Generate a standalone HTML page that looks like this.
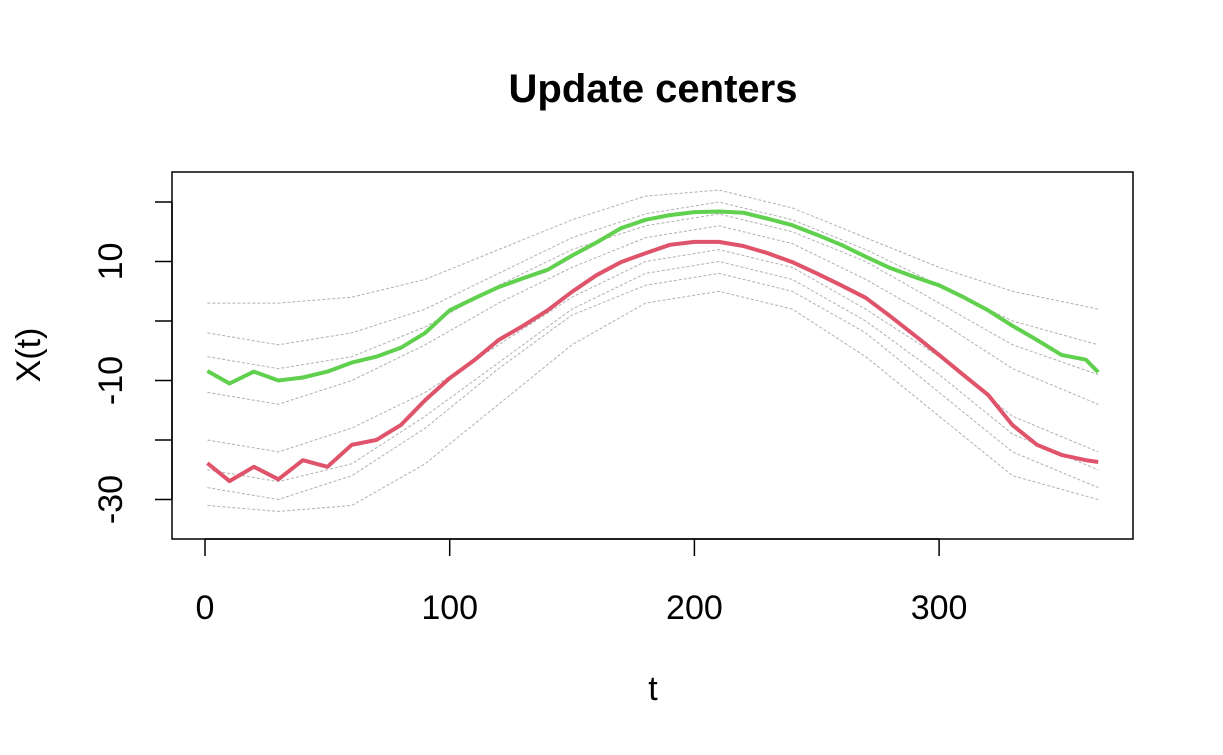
<!DOCTYPE html>
<html><head><meta charset="utf-8"><style>
body{margin:0;background:#fff;}
svg{display:block;font-family:"Liberation Sans",Arial,sans-serif;}
</style></head><body>
<svg id="chart" width="1223" height="755" viewBox="0 0 1223 755" xmlns="http://www.w3.org/2000/svg">
<rect width="1223" height="755" fill="#fff"/>
<text x="653" y="102" text-anchor="middle" font-size="40" font-weight="bold">Update centers</text>
<g id="gray"></g>
<g id="main"></g>
<rect x="172" y="172" width="961" height="367" fill="none" stroke="#000" stroke-width="1.5"/>
<g id="xaxis"></g>
<g id="yaxis"></g>
<text x="653" y="700" text-anchor="middle" font-size="34">t</text>
<text transform="translate(40,355) rotate(-90)" text-anchor="middle" font-size="34">X(t)</text>
</svg>
<script>
const xTicks=[0,100,200,300];
const yTicks=[-30,-20,-10,0,10,20];
const yTickLabels=["-30","","-10","","10",""];
const grayT=[1,30,60,90,120,150,180,210,240,270,300,330,365];
const gray1=[3,3,4,7,12,17,21,22,19,14,9,5,2];
const gray2=[-2,-4,-2,2,8,14,18,20,17,12,6,0,-4];
const gray3=[-12,-14,-10,-4,3,9,14,16,13,7,0,-8,-14];
const gray4=[-20,-22,-18,-12,-4,4,10,12,9,2,-6,-16,-22];
const gray5=[-28,-30,-26,-18,-8,1,6,8,5,-2,-12,-22,-28];
const gray6=[-31,-32,-31,-24,-14,-4,3,5,2,-6,-16,-26,-30];
const gray7=[-6,-8,-6,-1,6,12,16,18,15,10,3,-4,-9];
const gray8=[-25,-27,-24,-16,-7,2,8,10,7,0,-9,-19,-25];
const mainT=[1,10,20,30,40,50,60,70,80,90,100,110,120,130,140,150,160,170,180,190,200,210,220,230,240,250,260,270,280,290,300,310,320,330,340,350,360,365];
const greenVals=[-8.4,-10.5,-8.5,-10,-9.5,-8.5,-7,-6,-4.5,-2,1.8,3.8,5.7,7.2,8.6,11,13.2,15.6,17,17.8,18.3,18.4,18.2,17.2,16.1,14.5,12.8,10.8,8.9,7.4,6,4,1.8,-0.8,-3.2,-5.7,-6.5,-8.6];
const redVals=[-23.9,-26.9,-24.5,-26.6,-23.4,-24.5,-20.8,-20,-17.5,-13.3,-9.6,-6.6,-3.2,-0.8,1.8,4.9,7.7,9.9,11.4,12.8,13.3,13.3,12.6,11.4,9.9,8,6,3.9,0.8,-2.4,-5.7,-9.1,-12.4,-17.5,-20.8,-22.5,-23.4,-23.7];

const NS="http://www.w3.org/2000/svg";
const xs=t=>205+t*2.447;
const ys=v=>321-v*5.95;
function mk(tag,parent){const e=document.createElementNS(NS,tag);parent.appendChild(e);return e;}
function line(parent,T,V,color,w,dash,name){
  const p=mk('path',parent);
  
  
  p.setAttribute('d',T.map((t,i)=>(i?'L':'M')+xs(t).toFixed(1)+','+ys(V[i]).toFixed(1)).join(''));
  p.setAttribute('fill','none');p.setAttribute('stroke',color);p.setAttribute('stroke-width',w);
  p.setAttribute('stroke-linejoin','round');
  if(dash)p.setAttribute('stroke-dasharray',dash);
}
const g=document.getElementById('gray');
[gray1,gray2,gray3,gray4,gray5,gray6,gray7,gray8].forEach((s,i)=>line(g,grayT,s,'#b0b0b0',1,'3,2','gray-line-'+(i+1)));
const m=document.getElementById('main');
line(m,mainT,greenVals,'#61D04F',4,null,'green-center-line');
line(m,mainT,redVals,'#DF536B',4,null,'red-center-line');
const xa=document.getElementById('xaxis');
const xl=mk('line',xa);


xl.setAttribute('x1',xs(0));xl.setAttribute('x2',xs(300));xl.setAttribute('y1',539);xl.setAttribute('y2',539);xl.setAttribute('stroke','#000');xl.setAttribute('stroke-width',1.5);
xTicks.forEach(t=>{
  const l=mk('line',xa);
  
  
  l.setAttribute('x1',xs(t));l.setAttribute('x2',xs(t));l.setAttribute('y1',539);l.setAttribute('y2',556);l.setAttribute('stroke','#000');l.setAttribute('stroke-width',1.5);
  const tx=mk('text',xa);
  
  
  tx.setAttribute('x',xs(t));tx.setAttribute('y',619);tx.setAttribute('text-anchor','middle');tx.setAttribute('font-size','34');tx.textContent=t;
});
const ya=document.getElementById('yaxis');
const yl=mk('line',ya);


yl.setAttribute('x1',172);yl.setAttribute('x2',172);yl.setAttribute('y1',ys(-30));yl.setAttribute('y2',ys(20));yl.setAttribute('stroke','#000');yl.setAttribute('stroke-width',1.5);
yTicks.forEach((v,i)=>{
  const l=mk('line',ya);
  
  
  l.setAttribute('x1',155);l.setAttribute('x2',172);l.setAttribute('y1',ys(v));l.setAttribute('y2',ys(v));l.setAttribute('stroke','#000');l.setAttribute('stroke-width',1.5);
  if(yTickLabels[i]){
    const tx=mk('text',ya);
    
    
    tx.setAttribute('transform','translate(122,'+ys(v)+') rotate(-90)');
    tx.setAttribute('text-anchor','middle');tx.setAttribute('font-size','34');tx.textContent=yTickLabels[i];
  }
});
</script>
</body></html>
